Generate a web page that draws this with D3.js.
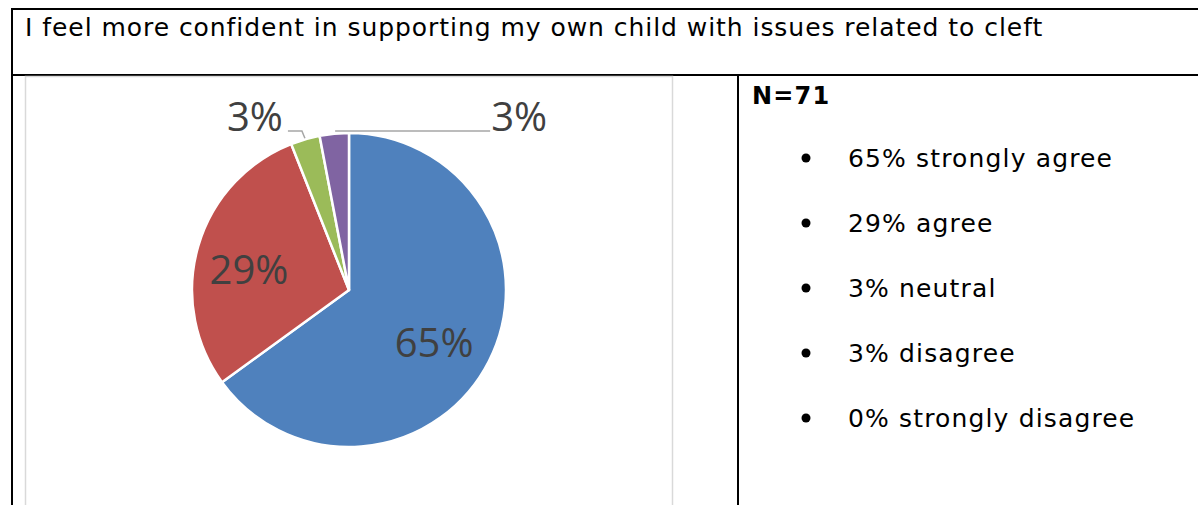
<!DOCTYPE html>
<html>
<head>
<meta charset="utf-8">
<script src="https://cdn.jsdelivr.net/npm/d3@7"></script>
<style>
  html, body { margin: 0; padding: 0; background: #fff; }
  svg { display: block; }
</style>
</head>
<body>
<svg id="chart" width="1198" height="505"></svg>
<script>
// Survey question and response breakdown
const question = "I feel more confident in supporting my own child with issues related to cleft";
const sampleLabel = "N=71";
const categories = ["strongly agree", "agree", "neutral", "disagree", "strongly disagree"];
const values = [65, 29, 3, 3, 0];
const colors = ["#4F81BD", "#C0504D", "#9BBB59", "#8064A2", "#F79646"];

const svg = d3.select("#chart");
const W = 1198, H = 505;

// ---- table frame ----
const frame = svg.append("g").attr("stroke", "#000").attr("stroke-width", 2).attr("fill", "none");
frame.append("line").attr("x1", 11).attr("x2", W).attr("y1", 9).attr("y2", 9);
frame.append("line").attr("x1", 11).attr("x2", W).attr("y1", 75).attr("y2", 75);
frame.append("line").attr("x1", 12).attr("x2", 12).attr("y1", 8).attr("y2", H);
frame.append("line").attr("x1", 738).attr("x2", 738).attr("y1", 75).attr("y2", H);

const textFont = "DejaVu Sans, Verdana, sans-serif";
svg.append("text")
  .attr("x", 25).attr("y", 36)
  .attr("font-family", textFont)
  .attr("font-size", 25).attr("letter-spacing", 0.95).attr("fill", "#000")
  .text(question);

// chart area border
svg.append("rect")
  .attr("x", 25.5).attr("y", 76.5).attr("width", 647).attr("height", 460)
  .attr("fill", "none").attr("stroke", "#D9D9D9").attr("stroke-width", 1.5);

// ---- pie ----
const cx = 349, cy = 290, R = 157;
const data = categories.map((c, i) => ({ cat: c, value: values[i], color: colors[i] }));
const pie = d3.pie().value(d => d.value).sort(null);
const arcs = pie(data);
const arc = d3.arc().innerRadius(0).outerRadius(R);
const labelArc = d3.arc().innerRadius(100).outerRadius(100);

const g = svg.append("g").attr("transform", `translate(${cx},${cy})`);
g.selectAll("path.slice")
  .data(arcs.filter(a => a.data.value > 0))
  .join("path")
  .attr("class", "slice")
  .attr("d", arc)
  .attr("fill", d => d.data.color)
  .attr("stroke", "#fff")
  .attr("stroke-width", 2.5)
  .attr("stroke-linejoin", "round");

const labelFont = "Open Sans, Liberation Sans, sans-serif";
const fmt = v => v + "%";

// large slices: label inside at a fixed radius
g.selectAll("text.inner")
  .data(arcs.filter(a => a.data.value >= 10))
  .join("text")
  .attr("class", "inner")
  .attr("transform", d => {
    const [x, y] = labelArc.centroid(d);
    return `translate(${x - 4},${y})`;
  })
  .attr("text-anchor", "middle")
  .attr("dy", "0.55em")
  .attr("font-family", labelFont)
  .attr("font-size", 40)
  .attr("fill", "#404040")
  .text(d => fmt(d.data.value));

// small slices: label above the pie with a leader line
const small = arcs.filter(a => a.data.value > 0 && a.data.value < 10);
const labelY = -R - 2;
small.forEach((d, i) => {
  const mid = (d.startAngle + d.endAngle) / 2;
  const ex = Math.sin(mid) * (R + 1), ey = -Math.cos(mid) * (R + 1);
  const left = i === 0;
  let pts, tx, anchor;
  if (left) {
    pts = [[ex, ey], [ex - 3, labelY], [ex - 17, labelY]];
    tx = ex - 22; anchor = "end";
  } else {
    pts = [[ex + 1, labelY], [ex + 156, labelY]];
    tx = ex + 157; anchor = "start";
  }
  g.append("path")
    .attr("d", d3.line()(pts))
    .attr("fill", "none")
    .attr("stroke", "#A6A6A6")
    .attr("stroke-width", 1.5);
  g.append("text")
    .attr("x", tx).attr("y", labelY)
    .attr("text-anchor", anchor)
    .attr("font-family", labelFont)
    .attr("font-size", 40)
    .attr("fill", "#404040")
    .text(fmt(d.data.value));
});

// ---- summary list ----
svg.append("text")
  .attr("x", 752).attr("y", 104)
  .attr("font-family", textFont).attr("font-weight", "bold")
  .attr("font-size", 24).attr("letter-spacing", 1.2).attr("fill", "#000")
  .text(sampleLabel);

const rowY = d3.scalePoint().domain(categories).range([167, 427]);
const items = svg.append("g").selectAll("g.item")
  .data(data).join("g").attr("class", "item")
  .attr("transform", d => `translate(0,${rowY(d.cat)})`);
items.append("circle").attr("cx", 806).attr("cy", -9).attr("r", 4.5).attr("fill", "#000");
items.append("text")
  .attr("x", 848).attr("y", 0)
  .attr("font-family", textFont).attr("font-size", 25).attr("letter-spacing", 1.15).attr("fill", "#000")
  .text(d => `${d.value}% ${d.cat}`);
</script>
</body>
</html>
